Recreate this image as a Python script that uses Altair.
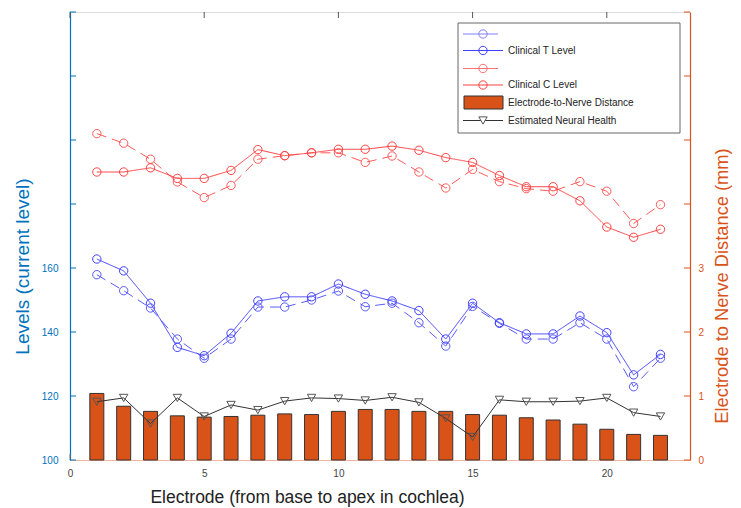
import altair as alt
import pandas as pd

# ---------------- data ----------------
electrode = list(range(1, 23))

# Clinical T levels (current level, left axis)
t_level_a = [157.9, 152.9, 147.5, 137.8, 131.8, 137.8, 147.8, 147.8, 150.0, 152.8, 147.9,
             149.0, 142.9, 135.6, 148.0, 142.7, 137.8, 137.8, 142.9, 137.8, 122.9, 131.8]
t_level_b = [162.8, 159.1, 149.0, 135.2, 132.6, 139.6, 149.7, 151.0, 151.0, 155.0, 151.8,
             149.7, 146.7, 137.8, 149.0, 142.9, 139.4, 139.4, 145.0, 139.8, 126.6, 133.0]

# Clinical C levels (current level, left axis)
c_level_a = [202.0, 199.0, 194.0, 186.9, 182.0, 185.8, 194.0, 195.1, 196.0, 196.0, 193.0,
             195.0, 190.0, 185.0, 190.8, 187.0, 184.8, 184.0, 187.0, 184.0, 173.9, 179.8]
c_level_b = [190.0, 190.0, 191.3, 188.0, 188.0, 190.5, 197.0, 195.1, 196.0, 197.1, 197.1,
             198.1, 196.8, 194.5, 193.0, 188.9, 185.4, 185.4, 181.0, 172.8, 169.6, 172.1]

# Electrode-to-nerve distance (mm, right axis)
distance = [1.04, 0.84, 0.76, 0.69, 0.67, 0.68, 0.70, 0.72, 0.71, 0.76, 0.79,
            0.79, 0.76, 0.76, 0.71, 0.70, 0.66, 0.625, 0.56, 0.48, 0.40, 0.385]

# Estimated neural health (plotted on right axis scale)
neural_health = [0.91, 0.97, 0.57, 0.97, 0.68, 0.86, 0.78, 0.92, 0.97, 0.96, 0.93,
                 0.98, 0.90, 0.65, 0.36, 0.94, 0.91, 0.91, 0.92, 0.97, 0.74, 0.68]

series_names = ["T_a", "T_b", "C_a", "C_b"]
series_colors = ["#5a5aff", "#4040ff", "#ff5a5a", "#ff4040"]
series_dash = [[10, 6], [1, 0], [10, 6], [1, 0]]

x_ticks = [0, 5, 10, 15, 20]
left_ticks = [100, 120, 140, 160, 180, 200, 220, 240]
right_ticks = [0, 1, 2, 3, 4, 5, 6, 7]

legend_labels = ["", "Clinical T Level", "", "Clinical C Level",
                 "Electrode-to-Nerve Distance", "Estimated Neural Health"]

# ---------------- styling constants ----------------
W, H = 620, 448
BLUE_AX = "#0072BD"
ORANGE_AX = "#D95319"
FONT = "Liberation Sans"

levels = pd.DataFrame({
    "electrode": electrode * 4,
    "level": t_level_a + t_level_b + c_level_a + c_level_b,
    "series": sum([[s] * len(electrode) for s in series_names], []),
})
right_df = pd.DataFrame({"electrode": electrode, "distance": distance, "health": neural_health})

x_scale = alt.Scale(domain=[0, 23.1], nice=False, zero=False, padding=0)
x_axis = alt.Axis(values=x_ticks, title="Electrode (from base to apex in cochlea)", grid=False,
                  ticks=False, tickSize=0, labelPadding=8, labelFontSize=10, labelColor="#444",
                  labelFont=FONT, labelFlush=False, domainColor="#F4B49C", domainWidth=1.2,
                  titleFont=FONT, titleFontSize=17.5, titleFontWeight="normal", titleColor="#222",
                  titleX=237, titleY=42.5, titleBaseline="alphabetic", titleAlign="center")

left_scale = alt.Scale(domain=[100, 240], nice=False, zero=False)
left_axis = alt.Axis(orient="left", values=left_ticks, grid=False, ticks=False, tickSize=0,
                     labelExpr="datum.value <= 160 ? datum.label : ''", labelFlush=False,
                     labelPadding=12, labelFontSize=10, labelColor=BLUE_AX, labelFont=FONT,
                     domainColor=BLUE_AX, domainWidth=1.2,
                     title="Levels (current level)", titleColor=BLUE_AX, titleFont=FONT,
                     titleFontSize=19, titleFontWeight="normal", titleAngle=270,
                     titleX=-42, titleY=254, titleBaseline="alphabetic", titleAlign="center")

right_scale = alt.Scale(domain=[0, 7], nice=False, zero=True)
right_axis = alt.Axis(orient="right", values=right_ticks, grid=False, ticks=False, tickSize=0,
                      labelExpr="datum.value <= 3 ? datum.label : ''", labelFlush=False,
                      labelPadding=8, labelFontSize=10, labelColor=ORANGE_AX, labelFont=FONT,
                      domainColor=ORANGE_AX, domainWidth=1.2,
                      title="Electrode to Nerve Distance (mm)", titleColor=ORANGE_AX, titleFont=FONT,
                      titleFontSize=18.3, titleFontWeight="normal", titleAngle=270,
                      titleX=37, titleY=273.5, titleBaseline="alphabetic", titleAlign="center")

X = alt.X("electrode:Q", scale=x_scale, axis=x_axis)
color_enc = alt.Color("series:N", scale=alt.Scale(domain=series_names, range=series_colors), legend=None)
dash_enc = alt.StrokeDash("series:N", scale=alt.Scale(domain=series_names, range=series_dash), legend=None)

# ---------------- left group ----------------
lev_lines = alt.Chart(levels).mark_line(strokeWidth=1).encode(
    x=X, y=alt.Y("level:Q", scale=left_scale, axis=left_axis),
    color=color_enc, strokeDash=dash_enc, detail="series:N")
lev_pts = alt.Chart(levels).mark_point(shape="circle", size=70, filled=False, strokeWidth=1, opacity=1).encode(
    x=X, y=alt.Y("level:Q", scale=left_scale, axis=left_axis), color=color_enc)

lt_df = pd.DataFrame({"v": left_ticks})
left_tick_rules = alt.Chart(lt_df).mark_rule(color=BLUE_AX, strokeWidth=1).encode(
    y=alt.Y("v:Q", scale=left_scale, axis=left_axis), x=alt.value(0), x2=alt.value(6))

xt_df = pd.DataFrame({"electrode": x_ticks})
x_tick_top = alt.Chart(xt_df).mark_rule(color="#555", strokeWidth=1).encode(
    x=X, y=alt.value(0), y2=alt.value(6))
x_tick_bot = alt.Chart(xt_df).mark_rule(color="#777", strokeWidth=1).encode(
    x=X, y=alt.value(H), y2=alt.value(H - 6))

left_group = alt.layer(x_tick_top, x_tick_bot, left_tick_rules, lev_lines, lev_pts)

# ---------------- right group ----------------
bars = alt.Chart(right_df).mark_bar(size=14, color=ORANGE_AX, stroke="#333", strokeWidth=1).encode(
    x=X, y=alt.Y("distance:Q", scale=right_scale, axis=right_axis))
health_line = alt.Chart(right_df).mark_line(color="#333", strokeWidth=1).encode(
    x=X, y=alt.Y("health:Q", scale=right_scale, axis=right_axis))
health_pts = alt.Chart(right_df).mark_point(shape="triangle-down", size=70, filled=False,
                                            color="#555", strokeWidth=1, opacity=1).encode(
    x=X, y=alt.Y("health:Q", scale=right_scale, axis=right_axis))
rt_df = pd.DataFrame({"v": right_ticks})
right_tick_rules = alt.Chart(rt_df).mark_rule(color=ORANGE_AX, strokeWidth=1).encode(
    y=alt.Y("v:Q", scale=right_scale, axis=right_axis), x=alt.value(W - 6), x2=alt.value(W))

right_group = alt.layer(bars, right_tick_rules, health_line, health_pts)

# ---------------- manual legend ----------------
one = pd.DataFrame({"k": [0]})
LX0, LX1, LY0, LY1 = 388, 610, 11, 121
entry_y = [22, 38.5, 56.5, 73, 90.5, 108.5]
line_x0, line_x1, sym_x, text_x = 393, 433, 413, 438
entry_colors = ["#8080ff", "#4040ff", "#ff7070", "#ff4040"]

legend_layers = [
    alt.Chart(one).mark_rect(fill="white", stroke="#666", strokeWidth=1).encode(
        x=alt.value(LX0), x2=alt.value(LX1), y=alt.value(LY0), y2=alt.value(LY1))
]
for i in range(4):
    legend_layers.append(alt.Chart(one).mark_rule(color=entry_colors[i], strokeWidth=1).encode(
        x=alt.value(line_x0), x2=alt.value(line_x1 - (5 if legend_labels[i] == "" else 0)),
        y=alt.value(entry_y[i])))
    legend_layers.append(alt.Chart(one).mark_point(shape="circle", size=70, filled=False,
                                                   color=entry_colors[i], strokeWidth=1, opacity=1).encode(
        x=alt.value(sym_x), y=alt.value(entry_y[i])))
legend_layers.append(alt.Chart(one).mark_rect(fill=ORANGE_AX, stroke="#333", strokeWidth=1).encode(
    x=alt.value(line_x0 + 1), x2=alt.value(line_x1), y=alt.value(entry_y[4] - 6.5), y2=alt.value(entry_y[4] + 6.5)))
legend_layers.append(alt.Chart(one).mark_rule(color="#333", strokeWidth=1).encode(
    x=alt.value(line_x0), x2=alt.value(line_x1), y=alt.value(entry_y[5])))
legend_layers.append(alt.Chart(one).mark_point(shape="triangle-down", size=70, filled=True, fill="white",
                                               stroke="#555", strokeWidth=1, opacity=1).encode(
    x=alt.value(sym_x), y=alt.value(entry_y[5])))
for i, lab in enumerate(legend_labels):
    if lab:
        legend_layers.append(alt.Chart(one).mark_text(align="left", baseline="middle", font=FONT,
                                                      fontSize=10, color="#222").encode(
            x=alt.value(text_x), y=alt.value(entry_y[i]), text=alt.value(lab)))

chart = alt.layer(left_group, right_group, *legend_layers).resolve_scale(y="independent").properties(
    width=W, height=H,
    autosize=alt.AutoSizeParams(type="none"),
    padding={"left": 62, "top": 4, "right": 43, "bottom": 48},
).configure_view(stroke="#333", strokeWidth=1).configure(background="white")

chart.save("out.html", embed_options={"renderer": "svg", "actions": False})
